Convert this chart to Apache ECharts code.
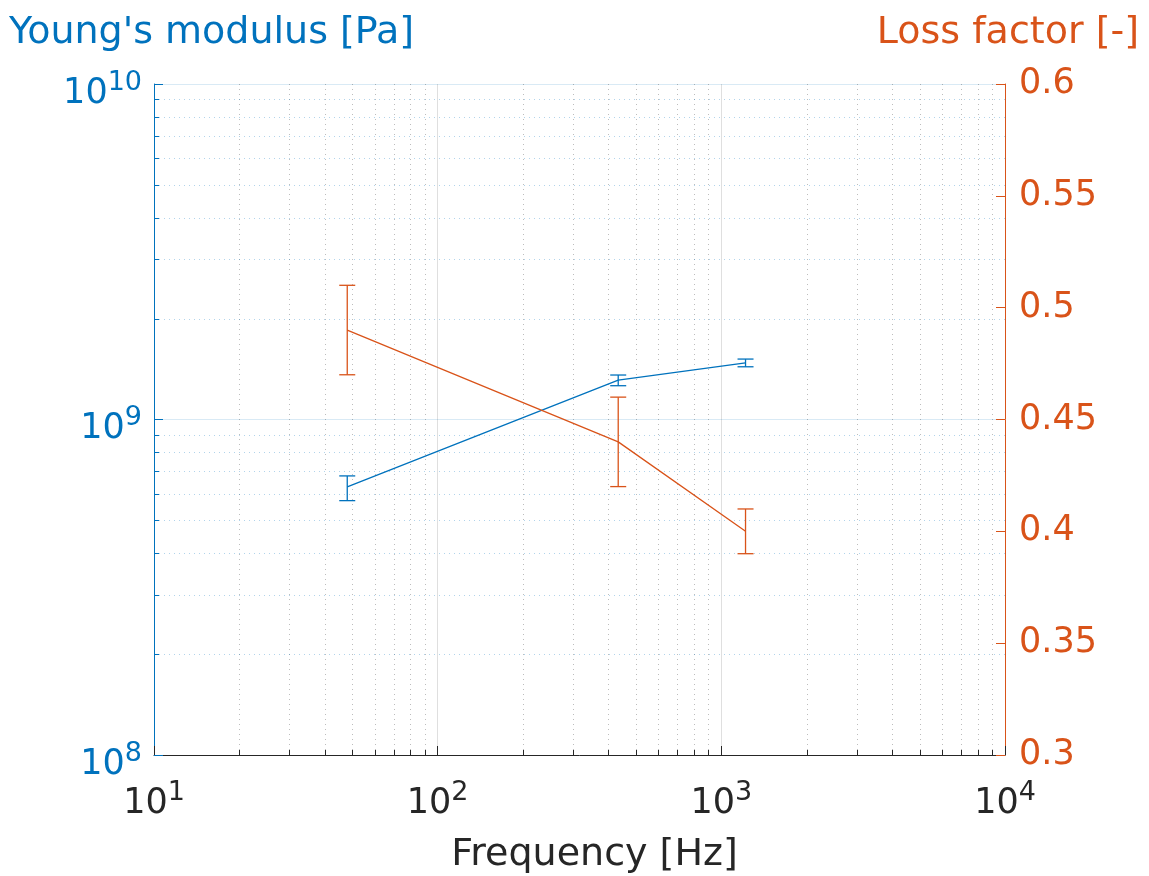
<!DOCTYPE html>
<html>
<head>
<meta charset="utf-8">
<script src="https://cdn.jsdelivr.net/npm/echarts@6/dist/echarts.min.js"></script>
<style>
  html, body { margin: 0; padding: 0; background: #fff; }
  #chart { width: 1149px; height: 876px; }
</style>
</head>
<body>
<div id="chart"></div>
<script>
const BLUE = "#0072BD";
const ORANGE = "#D95319";
const DARK = "#262626";
const FONT = "DejaVu Sans";

// measured data
const freq = [48, 433, 1217];
const modulus = [6.3e8, 1.311e9, 1.476e9];
const modulusLow = [5.73e8, 1.261e9, 1.436e9];
const modulusHigh = [6.79e8, 1.357e9, 1.514e9];
const loss = [0.49, 0.44, 0.4];
const lossLow = [0.47, 0.42, 0.39];
const lossHigh = [0.51, 0.46, 0.41];

// minor tick positions
const xMinor = [20, 30, 40, 50, 60, 70, 80, 90, 200, 300, 400, 500, 600, 700, 800, 900,
  2000, 3000, 4000, 5000, 6000, 7000, 8000, 9000];
const yMinor = [2e8, 3e8, 4e8, 5e8, 6e8, 7e8, 8e8, 9e8, 2e9, 3e9, 4e9, 5e9, 6e9, 7e9, 8e9, 9e9];

const chart = echarts.init(document.getElementById("chart"));

const powLabel = (v) => "{b|10}{s|" + Math.round(Math.log10(v)) + "}";
const powRich = (color) => ({
  b: { fontFamily: FONT, fontSize: 35, color: color },
  s: { fontFamily: FONT, fontSize: 27, color: color, padding: [0, 0, 22, 0] },
});

const errorBar = (color, yAxisIndex, lows, highs) => ({
  type: "custom",
  yAxisIndex: yAxisIndex,
  silent: true,
  z: 3,
  data: freq.map((f, i) => [f, lows[i], highs[i]]),
  renderItem: (params, api) => {
    const lo = api.coord([api.value(0), api.value(1)]);
    const hi = api.coord([api.value(0), api.value(2)]);
    const w = 8;
    const style = { stroke: color, lineWidth: 1.3 };
    return {
      type: "group",
      children: [
        { type: "line", shape: { x1: lo[0], y1: lo[1], x2: hi[0], y2: hi[1] }, style },
        { type: "line", shape: { x1: lo[0] - w, y1: lo[1], x2: lo[0] + w, y2: lo[1] }, style },
        { type: "line", shape: { x1: hi[0] - w, y1: hi[1], x2: hi[0] + w, y2: hi[1] }, style },
      ],
    };
  },
});

const option = {
  animation: false,
  backgroundColor: "#fff",
  title: [
    {
      text: "Young's modulus [Pa]",
      left: 4,
      top: 9,
      textStyle: { fontFamily: FONT, fontSize: 38, fontWeight: "normal", color: BLUE },
    },
    {
      text: "Loss factor [-]",
      right: 5,
      top: 9,
      textStyle: { fontFamily: FONT, fontSize: 38, fontWeight: "normal", color: ORANGE },
    },
  ],
  grid: { left: 154, right: 144, top: 84, bottom: 121, containLabel: false, outerBoundsMode: "none" },
  xAxis: {
    type: "log",
    logBase: 10,
    min: 10,
    max: 10000,
    name: "Frequency [Hz]",
    nameLocation: "middle",
    nameGap: 81,
    nameTextStyle: { fontFamily: FONT, fontSize: 38, color: DARK, padding: [0, 0, 0, 30] },
    axisLine: { onZero: false, lineStyle: { color: DARK, width: 1 } },
    axisTick: { inside: true, length: 9, lineStyle: { color: DARK } },
    axisLabel: { margin: 24, formatter: powLabel, rich: powRich(DARK) },
    splitLine: { show: true, lineStyle: { color: "rgba(38,38,38,0.15)", width: 1 } },
  },
  yAxis: [
    {
      type: "log",
      logBase: 10,
      min: 1e8,
      max: 1e10,
      position: "left",
      axisLine: { show: true, onZero: false, lineStyle: { color: BLUE, width: 1 } },
      axisTick: { inside: true, length: 9, lineStyle: { color: BLUE } },
      axisLabel: { margin: 12, padding: [19, 0, 0, 0], formatter: powLabel, rich: powRich(BLUE) },
      splitLine: { show: true, lineStyle: { color: "rgba(0,114,189,0.15)", width: 1 } },
    },
    {
      type: "value",
      min: 0.3,
      max: 0.6,
      interval: 0.05,
      position: "right",
      axisLine: { show: true, onZero: false, lineStyle: { color: ORANGE, width: 1 } },
      axisTick: { inside: true, length: 9, lineStyle: { color: ORANGE } },
      axisLabel: {
        margin: 14,
        padding: [5, 0, 0, 0],
        fontFamily: FONT,
        fontSize: 35,
        color: ORANGE,
        formatter: (v) => String(+v.toFixed(2)),
      },
      splitLine: { show: false },
    },
  ],
  series: [
    {
      // x minor grid + ticks
      type: "custom",
      silent: true,
      z: 0,
      data: xMinor.map((v) => [v, 1e9]),
      renderItem: (params, api) => {
        const p = api.coord([api.value(0), api.value(1)]);
        const cs = params.coordSys;
        const x = Math.round(p[0]) + 0.5;
        const bottom = cs.y + cs.height;
        return {
          type: "group",
          children: [
            {
              type: "line",
              shape: { x1: x, y1: cs.y, x2: x, y2: bottom },
              style: { stroke: "rgba(38,38,38,0.3)", lineWidth: 1, lineDash: [1, 4] },
            },
            {
              type: "line",
              shape: { x1: x, y1: bottom, x2: x, y2: bottom - 5 },
              style: { stroke: DARK, lineWidth: 1 },
            },
          ],
        };
      },
    },
    {
      // y minor grid + ticks
      type: "custom",
      silent: true,
      z: 0,
      data: yMinor.map((v) => [100, v]),
      renderItem: (params, api) => {
        const p = api.coord([api.value(0), api.value(1)]);
        const cs = params.coordSys;
        const y = Math.round(p[1]) + 0.5;
        return {
          type: "group",
          children: [
            {
              type: "line",
              shape: { x1: cs.x, y1: y, x2: cs.x + cs.width, y2: y },
              style: { stroke: "rgba(0,114,189,0.3)", lineWidth: 1, lineDash: [1, 4] },
            },
            {
              type: "line",
              shape: { x1: cs.x, y1: y, x2: cs.x + 5, y2: y },
              style: { stroke: BLUE, lineWidth: 1 },
            },
          ],
        };
      },
    },
    {
      name: "Young's modulus",
      type: "line",
      yAxisIndex: 0,
      data: freq.map((f, i) => [f, modulus[i]]),
      showSymbol: false,
      symbol: "none",
      z: 3,
      lineStyle: { color: BLUE, width: 1.3 },
    },
    errorBar(BLUE, 0, modulusLow, modulusHigh),
    {
      name: "Loss factor",
      type: "line",
      yAxisIndex: 1,
      data: freq.map((f, i) => [f, loss[i]]),
      showSymbol: false,
      symbol: "none",
      z: 3,
      lineStyle: { color: ORANGE, width: 1.3 },
    },
    errorBar(ORANGE, 1, lossLow, lossHigh),
  ],
};

chart.setOption(option);
</script>
</body>
</html>
